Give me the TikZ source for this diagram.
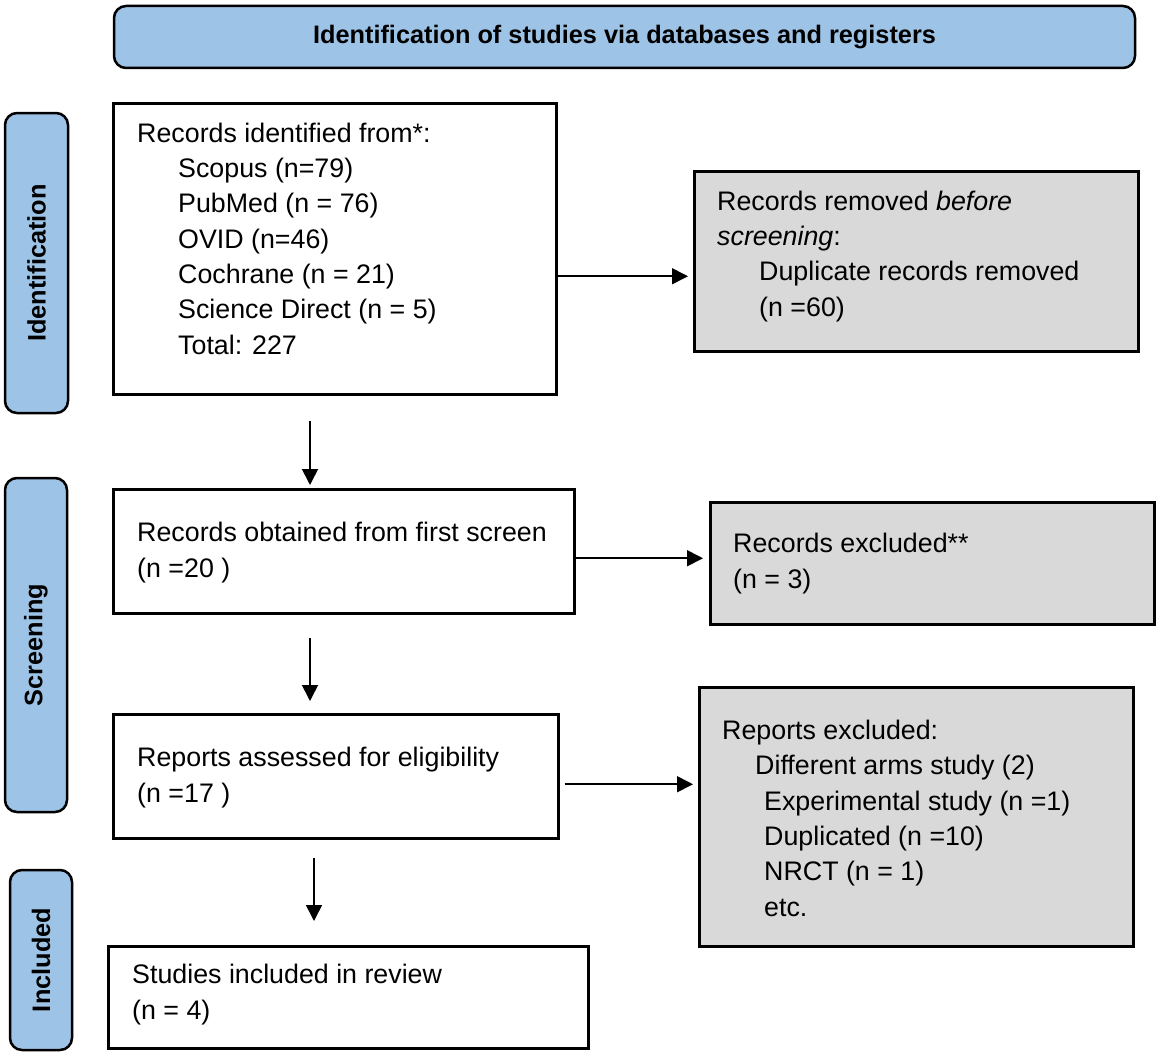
\documentclass[tikz,border=0pt]{standalone}
\usepackage{fontspec}
\setmainfont{Liberation Sans}
\usetikzlibrary{arrows.meta}
\definecolor{stageblue}{RGB}{157,195,230}
\definecolor{exclgray}{RGB}{217,217,217}

\begin{document}
\begin{tikzpicture}[x=1pt, y=-1pt,
        box/.style={draw, line width=2.5pt, anchor=north west, inner sep=0pt},
        whitebox/.style={box, fill=white},
        graybox/.style={box, fill=exclgray},
        stage/.style={draw, line width=2.5pt, fill=stageblue, rounded corners=12pt, inner sep=0pt, font=\fontsize{25.3}{30}\selectfont\bfseries},
        txt/.style={anchor=base west, align=left, inner sep=0pt, font=\fontsize{26.8}{35.3}\selectfont},
        arrow/.style={-{Triangle[length=16pt,width=16pt]}, line width=1.6pt}]
        \useasboundingbox (0,0) rectangle (1159,1057);
        % Header %
        \node[stage, minimum width=1021pt, minimum height=62pt] (banner) at (624.5,37) {Identification of studies via databases and registers};
        % Stages %
        \node[stage, rotate=90, minimum width=300pt, minimum height=63pt] (identstage) at (36.5,263) {Identification};
        \node[stage, rotate=90, minimum width=334pt, minimum height=62pt] (screenstage) at (36,645) {Screening};
        \node[stage, rotate=90, minimum width=180pt, minimum height=62pt] (inclstage) at (41,960) {Included};
        % Boxes %
        \node[whitebox, minimum width=443pt, minimum height=291pt] (ident) at (112,102) {};
        \node[whitebox, minimum width=461pt, minimum height=124pt] (obtained) at (112,488) {};
        \node[whitebox, minimum width=445pt, minimum height=124pt] (reports) at (112,713) {};
        \node[whitebox, minimum width=480pt, minimum height=102pt] (studies) at (107,945) {};
        \node[graybox, minimum width=444pt, minimum height=180pt] (removed) at (693,170) {};
        \node[graybox, minimum width=444pt, minimum height=122pt] (excluded) at (709,501) {};
        \node[graybox, minimum width=434pt, minimum height=259pt] (repexcl) at (698,686) {};
        % Texts (anchored at last baseline) %
        \node[txt] (identtext) at (137,354) {Records identified from*:\\
          \hspace*{41pt}Scopus (n=79)\\
          \hspace*{41pt}PubMed (n = 76)\\
          \hspace*{41pt}OVID (n=46)\\
          \hspace*{41pt}Cochrane (n = 21)\\
          \hspace*{41pt}Science Direct (n = 5)\\
          \hspace*{41pt}Total: 227};
        \node[txt] (removedtext) at (717,316) {Records removed \emph{before}\\
          \emph{screening}:\\
          \hspace*{42pt}Duplicate records removed\\
          \hspace*{42pt}(n =60)};
        \node[txt] (obtainedtext) at (137,577) {Records obtained from first screen\\(n =20 )};
        \node[txt] (excludedtext) at (733,588) {Records excluded**\\(n = 3)};
        \node[txt] (reportstext) at (137,802) {Reports assessed for eligibility\\(n =17 )};
        \node[txt] (repexcltext) at (722,916) {Reports excluded:\\
          \hspace*{33pt}Different arms study (2)\\
          \hspace*{42pt}Experimental study (n =1)\\
          \hspace*{42pt}Duplicated (n =10)\\
          \hspace*{42pt}NRCT (n = 1)\\
          \hspace*{42pt}etc.};
        \node[txt] (studiestext) at (132,1019) {Studies included in review\\(n = 4)};
        % Arrows %
        \coordinate (h1) at ([yshift=-27.5pt]ident.east);
        \coordinate (h2) at ([yshift=-7pt]obtained.east);
        \coordinate (h3) at ([yshift=-8pt]reports.east);
        \draw[arrow, shorten >=5pt] (h1) -- (h1 -| removed.west);
        \draw[arrow, shorten >=6pt] (h2) -- (h2 -| excluded.west);
        \draw[arrow, shorten <=5pt, shorten >=5pt] (h3) -- (h3 -| repexcl.west);
        \coordinate (col) at (310,0);
        \coordinate (col2) at (314,0);
        \draw[arrow, shorten <=25pt, shorten >=3pt] (ident.south -| col) -- (obtained.north -| col);
        \draw[arrow, shorten <=23pt, shorten >=12pt] (obtained.south -| col) -- (reports.north -| col);
        \draw[arrow, shorten <=18pt, shorten >=24pt] (reports.south -| col2) -- (studies.north -| col2);

      \end{tikzpicture}
\end{document}
